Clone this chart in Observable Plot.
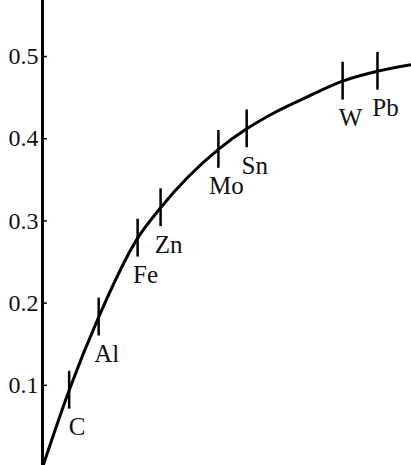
<!DOCTYPE html>
<html>
<head>
<meta charset="utf-8">
<script src="https://cdn.jsdelivr.net/npm/d3@7"></script>
<script src="https://cdn.jsdelivr.net/npm/@observablehq/plot@0.6"></script>
<style>
  html, body { margin: 0; padding: 0; background: #fff; }
  #chart svg { display: block; }
</style>
</head>
<body>
<div id="chart"></div>
<script>
// Element markers on the curve
const names = ["C", "Al", "Fe", "Zn", "Mo", "Sn", "W", "Pb"];
const markX = [6.5, 13.7, 23.2, 28.8, 42.9, 49.8, 73.2, 81.7];
const markY = [0.094, 0.183, 0.279, 0.316, 0.387, 0.412, 0.470, 0.482];

// Curve points
const curveX = [0, 6.5, 13.7, 23.2, 28.8, 42.9, 49.8, 56.3, 64.6, 73.2, 81.7, 90];
const curveY = [0, 0.094, 0.183, 0.279, 0.316, 0.387, 0.412, 0.431, 0.451, 0.470, 0.482, 0.490];

// Y-axis tick values
const yTicks = [0.1, 0.2, 0.3, 0.4, 0.5];

const marks = names.map((n, i) => ({name: n, x: markX[i], y: markY[i]}));
const curve = curveX.map((x, i) => ({x, y: curveY[i]}));

const halfTick = 0.023;

const chart = Plot.plot({
  width: 411,
  height: 465,
  marginLeft: 42,
  marginRight: 0,
  marginTop: 0,
  marginBottom: 0,
  style: {fontFamily: "'Liberation Serif', 'DejaVu Serif', serif", background: "#fff", color: "#000"},
  x: {type: "linear", domain: [0, 90], range: [42, 411], axis: null},
  y: {type: "linear", domain: [0, 0.5], range: [467, 56], axis: null},
  marks: [
    Plot.ruleX([0], {stroke: "#000", strokeWidth: 3}),
    Plot.axisY(yTicks, {
      anchor: "left",
      label: null,
      tickSize: 0,
      tickPadding: 4,
      fontSize: 24,
      tickFormat: d => d3.format(".1f")(d),
      fill: "#111"
    }),
    Plot.ruleY(yTicks, {x1: 0, x2: 1.2, stroke: "#000", strokeWidth: 1.5}),
    Plot.line(curve, {x: "x", y: "y", curve: "monotone-x", stroke: "#000", strokeWidth: 3}),
    Plot.ruleX(marks, {x: "x", y1: d => d.y - halfTick, y2: d => d.y + halfTick, stroke: "#000", strokeWidth: 2.5}),
    Plot.text(marks, {
      x: "x", y: "y", text: "name",
      dx: 8, dy: 37,
      fontSize: 25,
      fill: "#111",
      textAnchor: "middle"
    })
  ]
});
document.getElementById("chart").appendChild(chart);
</script>
</body>
</html>
